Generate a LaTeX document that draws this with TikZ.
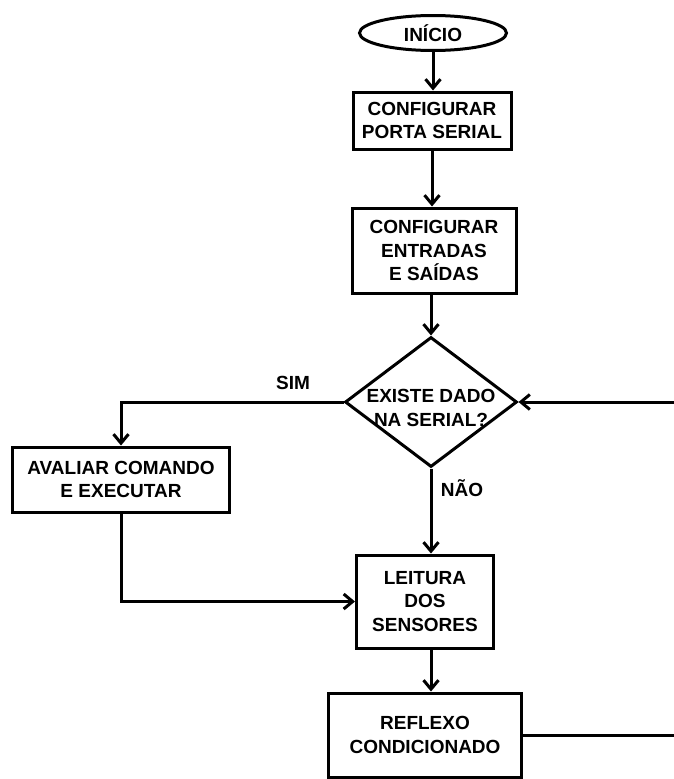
\documentclass[tikz,border=0pt]{standalone}
\usepackage{fontspec}
\setmainfont{Liberation Sans}
\usetikzlibrary{shapes.geometric,arrows.meta}
\begin{document}
\begin{tikzpicture}[x=1pt,y=-1pt,
  every node/.style={font=\bfseries\fontsize{19}{23.5}\selectfont, inner sep=0pt, align=center},
  procbox/.style={draw, line width=3pt, rectangle},
  flow/.style={line width=3pt, -{Straight Barb[length=9pt,width=15pt]}},
  plainline/.style={line width=3pt},
]
\useasboundingbox (0,0) rectangle (673,779);
\coordinate (edgeR) at (676,0);
\node[draw, line width=3pt, ellipse, minimum width=147pt, minimum height=35pt] (inicio) at (433,33) {INÍCIO};
\node[procbox, minimum width=158pt, minimum height=57pt] (box1) at (432,120.5) {CONFIGURAR\\PORTA SERIAL};
\node[procbox, minimum width=164pt, minimum height=85pt] (box2) at (434,250.5) {CONFIGURAR\\ENTRADAS\\E SAÍDAS};
\node[draw, line width=3pt, diamond, minimum width=172pt, minimum height=130pt] (dec) at (431,402) {};
\node (dectext) at (431,408) {EXISTE DADO\\NA SERIAL?};
\node (sim) at (293,383) {SIM};
\node (nao) at (462,488) {NÃO};
\node[procbox, minimum width=217pt, minimum height=65pt] (aval) at (121,479.5) {AVALIAR COMANDO\\E EXECUTAR};
\node[procbox, minimum width=137pt, minimum height=93pt] (leit) at (425,601.5) {LEITURA\\DOS\\SENSORES};
\node[procbox, minimum width=193pt, minimum height=84pt] (refl) at (425,735) {REFLEXO\\CONDICIONADO};

\draw[flow] (inicio.south) -- (inicio.south |- box1.north);
\draw[flow] (box1.south) -- (box1.south |- box2.north);
\draw[flow] (box2.south -| dec.north) -- (dec.north);
\draw[flow] (dec.west) -| (aval.north);
\draw[flow] (dec.south) -- (dec.south |- leit.north);
\draw[flow] (aval.south) |- (leit.west);
\draw[flow] (dec.south |- leit.south) -- (dec.south |- refl.north);
\draw[plainline] (refl.east) -- (refl.east -| edgeR);
\draw[flow] (dec.east -| edgeR) -- (dec.east);
\end{tikzpicture}
\end{document}
